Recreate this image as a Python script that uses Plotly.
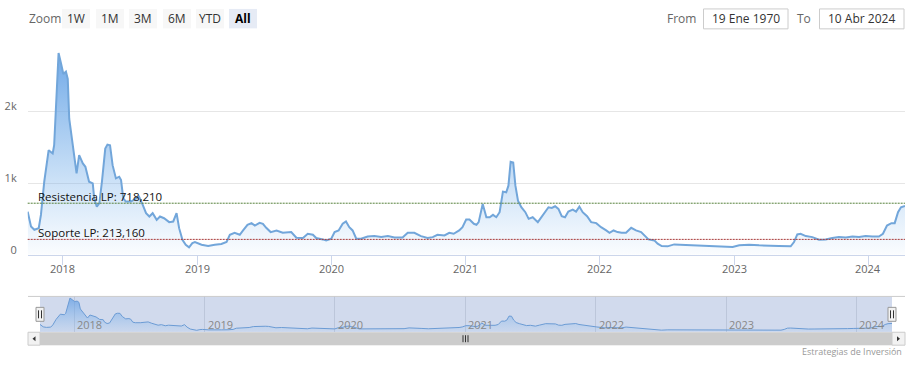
import plotly.graph_objects as go

# ---------------- data ----------------
dates = [
    "2017-09-27", "2017-10-06", "2017-10-15", "2017-10-27", "2017-11-02", "2017-11-11", "2017-11-23",
    "2017-12-04", "2017-12-08", "2017-12-15", "2017-12-20", "2017-12-27", "2018-01-02", "2018-01-09",
    "2018-01-14", "2018-01-18", "2018-01-27", "2018-02-07", "2018-02-14", "2018-02-24", "2018-03-03",
    "2018-03-13", "2018-03-23", "2018-03-27", "2018-04-03", "2018-04-10", "2018-04-17", "2018-04-26",
    "2018-05-02", "2018-05-09", "2018-05-16", "2018-05-25", "2018-06-03", "2018-06-08", "2018-06-14",
    "2018-06-21", "2018-07-05", "2018-07-18", "2018-07-27", "2018-08-06", "2018-08-15", "2018-08-24",
    "2018-09-02", "2018-09-13", "2018-09-22", "2018-10-03", "2018-10-17", "2018-10-28", "2018-11-06",
    "2018-11-13", "2018-11-22", "2018-12-01", "2018-12-10", "2018-12-19", "2018-12-26", "2019-01-13",
    "2019-01-31", "2019-02-18", "2019-03-08", "2019-03-22", "2019-03-31", "2019-04-13", "2019-04-27",
    "2019-05-06", "2019-05-18", "2019-05-29", "2019-06-07", "2019-06-20", "2019-06-29", "2019-07-08",
    "2019-07-20", "2019-08-05", "2019-08-22", "2019-09-14", "2019-09-28", "2019-10-16", "2019-10-29",
    "2019-11-12", "2019-11-21", "2019-12-09", "2019-12-18", "2020-01-01", "2020-01-10", "2020-01-21",
    "2020-02-01", "2020-02-10", "2020-02-19", "2020-02-28", "2020-03-09", "2020-03-22", "2020-04-09",
    "2020-04-27", "2020-05-16", "2020-06-03", "2020-06-21", "2020-07-13", "2020-07-27", "2020-08-14",
    "2020-09-01", "2020-09-19", "2020-10-03", "2020-10-16", "2020-11-04", "2020-11-17", "2020-11-29",
    "2020-12-14", "2020-12-23", "2021-01-02", "2021-01-11", "2021-01-23", "2021-01-30", "2021-02-05",
    "2021-02-16", "2021-02-26", "2021-03-07", "2021-03-16", "2021-03-25", "2021-04-03", "2021-04-12",
    "2021-04-21", "2021-04-27", "2021-05-03", "2021-05-10", "2021-05-16", "2021-05-23", "2021-06-01",
    "2021-06-12", "2021-06-21", "2021-07-02", "2021-07-16", "2021-07-27", "2021-08-05", "2021-08-14",
    "2021-08-23", "2021-09-01", "2021-09-10", "2021-09-19", "2021-09-28", "2021-10-07", "2021-10-19",
    "2021-10-28", "2021-11-06", "2021-11-15", "2021-11-27", "2021-12-08", "2021-12-22", "2022-01-04",
    "2022-01-18", "2022-01-27", "2022-02-07", "2022-02-18", "2022-03-01", "2022-03-13", "2022-03-27",
    "2022-04-09", "2022-04-23", "2022-05-04", "2022-05-13", "2022-05-29", "2022-06-07", "2022-06-18",
    "2022-07-04", "2022-07-22", "2022-08-09", "2022-08-27", "2022-09-15", "2022-10-07", "2022-10-25",
    "2022-11-21", "2022-12-28", "2023-01-15", "2023-02-11", "2023-03-10", "2023-04-06", "2023-05-03",
    "2023-06-04", "2023-06-13", "2023-06-22", "2023-07-01", "2023-07-15", "2023-08-02", "2023-08-20",
    "2023-09-07", "2023-09-25", "2023-10-13", "2023-11-01", "2023-11-19", "2023-12-07", "2023-12-25",
    "2024-01-12", "2024-01-30", "2024-02-10", "2024-02-21", "2024-03-04", "2024-03-13", "2024-03-22",
    "2024-03-30", "2024-04-10",
]
values = [
    600, 393, 347, 370, 555, 1018, 1458,
    1412, 1528, 2361, 2815, 2662, 2523, 2556,
    2454, 1898, 1528, 1134, 1389, 1273, 1227,
    1018, 995, 787, 671, 718, 1018, 1481,
    1537, 1528, 1250, 1065, 1088, 1042, 787,
    741, 741, 787, 810, 694, 579, 532,
    579, 486, 532, 509, 454, 463, 579,
    370, 208, 139, 102, 162, 176, 139,
    120, 139, 148, 176, 278, 305, 278,
    338, 417, 440, 407, 444, 431, 375,
    315, 338, 305, 315, 236, 232, 292,
    278, 232, 213, 199, 222, 315, 338,
    431, 463, 384, 338, 222, 222, 254,
    259, 245, 259, 240, 240, 305, 305,
    259, 232, 245, 278, 268, 305, 292,
    338, 384, 490, 490, 431, 417, 454,
    708, 523, 523, 556, 523, 593, 880,
    870, 963, 1296, 1287, 963, 755, 662,
    593, 500, 523, 454, 537, 593, 662,
    653, 676, 639, 537, 523, 602, 630,
    602, 671, 593, 537, 454, 440, 384,
    338, 305, 338, 315, 305, 305, 375,
    338, 315, 259, 213, 199, 153, 120,
    116, 143, 139, 130, 130, 130, 116,
    116, 106, 130, 139, 130, 130, 120,
    116, 176, 282, 292, 259, 245, 208,
    213, 232, 245, 240, 254, 245, 259,
    254, 254, 292, 407, 440, 440, 593,
    662, 680,
]
year_ticks = ["2018-01-01", "2019-01-01", "2020-01-01", "2021-01-01",
              "2022-01-01", "2023-01-01", "2024-01-01"]
year_labels = ["2018", "2019", "2020", "2021", "2022", "2023", "2024"]
y_ticks = [0, 1000, 2000, 3000]
y_labels = ["0", "1k", "2k", ""]
resistencia = 718.21
soporte = 213.16
zoom_buttons = ["1W", "1M", "3M", "6M", "YTD", "All"]
date_from = "19 Ene 1970"
date_to = "10 Abr 2024"
credit = "Estrategias de Inversión"

# ---------------- helpers ----------------
W = 911
H_RENDER = 380           # page height; the picture shows its top 368 px
FONT = "Open Sans, Noto Sans, sans-serif"


def px(p):
    return p / W


def py(p):
    return 1 - p / H_RENDER


def fmt(v):
    return f"{v:.3f}".replace(".", ",")


fig = go.Figure()

# main series
fig.add_trace(go.Scatter(
    x=dates, y=values, mode="lines",
    line=dict(color="#72a6da", width=2),
    fill="tozeroy",
    fillgradient=dict(type="vertical",
                      colorscale=[[0, "rgba(124,181,236,0.03)"], [1, "rgba(104,164,230,0.95)"]],
                      start=0, stop=max(values)),
    hoverinfo="x+y", showlegend=False,
))

# navigator series
fig.add_trace(go.Scatter(
    x=dates, y=values, mode="lines", xaxis="x2", yaxis="y2",
    line=dict(color="#6b9bd4", width=1),
    fill="tozeroy",
    fillgradient=dict(type="vertical",
                      colorscale=[[0, "rgba(124,181,236,0.08)"], [1, "rgba(100,158,228,0.75)"]],
                      start=0, stop=max(values)),
    hoverinfo="skip", showlegend=False,
))

shapes = []
annotations = []

# plot lines (resistance / support)
for val, color, name in [(resistencia, "#55803a", "Resistencia LP"), (soporte, "#a83a3a", "Soporte LP")]:
    shapes.append(dict(type="line", xref="x domain", yref="y", x0=0, x1=1, y0=val, y1=val,
                       line=dict(color=color, width=1, dash="2px,1px"), layer="above"))
    annotations.append(dict(xref="x domain", yref="y", x=(36 - 27.7) / 877.3, y=val,
                            xanchor="left", yanchor="middle", yshift=7,
                            text=f"{name}: {fmt(val)}", showarrow=False,
                            font=dict(family=FONT, size=11.5, color="#111111")))

# main x-axis year labels (placed on the x scale)
for tv, tl in zip(year_ticks, year_labels):
    annotations.append(dict(xref="x", yref="paper", x=tv, y=py(269.5), xanchor="center",
                            yanchor="middle", text=tl, showarrow=False,
                            font=dict(family=FONT, size=11, color="#666666")))

# navigator year labels (on navigator scale)
for tv, tl in zip(year_ticks, year_labels):
    annotations.append(dict(xref="x2", yref="paper", x=tv, y=py(326.5), xanchor="left",
                            yanchor="middle", xshift=1, text=tl, showarrow=False,
                            font=dict(family=FONT, size=11, color="#888888")))

# navigator mask / outline / handles
nav_top, nav_bot = 298, 334
shapes.append(dict(type="rect", xref="paper", yref="paper", x0=px(40), x1=px(892),
                   y0=py(nav_bot), y1=py(nav_top), fillcolor="rgba(102,133,194,0.3)",
                   line=dict(width=0), layer="below"))
shapes.append(dict(type="line", xref="paper", yref="paper", x0=px(28), x1=px(905),
                   y0=py(nav_top), y1=py(nav_top), line=dict(color="#cccccc", width=1)))
for hx in (40, 892):
    shapes.append(dict(type="rect", xref="paper", yref="paper", x0=px(hx - 4), x1=px(hx + 4),
                       y0=py(323), y1=py(309), fillcolor="#f2f2f2",
                       line=dict(color="#999999", width=1)))
    for lx in (hx - 1.5, hx + 1.5):
        shapes.append(dict(type="line", xref="paper", yref="paper", x0=px(lx), x1=px(lx),
                           y0=py(320), y1=py(312), line=dict(color="#333333", width=1)))

# scrollbar
sb_top, sb_bot = 334, 347
shapes.append(dict(type="rect", xref="paper", yref="paper", x0=px(28), x1=px(905),
                   y0=py(sb_bot), y1=py(sb_top), fillcolor="#f2f2f2", line=dict(width=0)))
shapes.append(dict(type="rect", xref="paper", yref="paper", x0=px(40), x1=px(892),
                   y0=py(sb_bot), y1=py(sb_top), fillcolor="#cccccc", line=dict(width=0)))
for bx0, bx1 in ((28, 40), (892, 905)):
    shapes.append(dict(type="rect", xref="paper", yref="paper", x0=px(bx0), x1=px(bx1),
                       y0=py(sb_bot), y1=py(sb_top), fillcolor="#f2f2f2",
                       line=dict(color="#cccccc", width=1)))
shapes.append(dict(type="path", xref="paper", yref="paper",
                   path=f"M {px(32.5)} {py(340.5)} L {px(35.5)} {py(338)} L {px(35.5)} {py(343)} Z",
                   fillcolor="#333333", line=dict(width=0)))
shapes.append(dict(type="path", xref="paper", yref="paper",
                   path=f"M {px(900)} {py(340.5)} L {px(897)} {py(338)} L {px(897)} {py(343)} Z",
                   fillcolor="#333333", line=dict(width=0)))
for gx in (463, 465.5, 468):
    shapes.append(dict(type="line", xref="paper", yref="paper", x0=px(gx), x1=px(gx),
                       y0=py(344), y1=py(337), line=dict(color="#333333", width=1)))

# range selector
annotations.append(dict(xref="paper", yref="paper", x=px(27), y=py(18.5), xanchor="left",
                        yanchor="middle", text="Zoom", showarrow=False,
                        font=dict(family=FONT, size=12, color="#666666")))
btn_x = [62, 96, 129, 163, 196, 229]
for label, bx in zip(zoom_buttons, btn_x):
    sel = label == "All"
    shapes.append(dict(type="rect", xref="paper", yref="paper", x0=px(bx), x1=px(bx + 28),
                       y0=py(28.5), y1=py(9), fillcolor="#e6ebf5" if sel else "#f7f7f7",
                       line=dict(width=0)))
    annotations.append(dict(xref="paper", yref="paper", x=px(bx + 14), y=py(18.5),
                            xanchor="center", yanchor="middle",
                            text=f"<b>{label}</b>" if sel else label, showarrow=False,
                            font=dict(family=FONT, size=12, color="#000000" if sel else "#333333")))

# date inputs
annotations.append(dict(xref="paper", yref="paper", x=px(698), y=py(18.5), xanchor="right",
                        yanchor="middle", text="From", showarrow=False,
                        font=dict(family=FONT, size=12, color="#666666")))
annotations.append(dict(xref="paper", yref="paper", x=px(813), y=py(18.5), xanchor="right",
                        yanchor="middle", text="To", showarrow=False,
                        font=dict(family=FONT, size=12, color="#666666")))
for (bx0, bx1), txt in (((703.5, 788), date_from), ((819.5, 904), date_to)):
    shapes.append(dict(type="rect", xref="paper", yref="paper", x0=px(bx0), x1=px(bx1),
                       y0=py(29), y1=py(9), fillcolor="#ffffff",
                       line=dict(color="#cccccc", width=1)))
    annotations.append(dict(xref="paper", yref="paper", x=px((bx0 + bx1) / 2), y=py(18.5),
                            xanchor="center", yanchor="middle", text=txt, showarrow=False,
                            font=dict(family=FONT, size=12, color="#333333")))

# credit
annotations.append(dict(xref="paper", yref="paper", x=px(904), y=py(353), xanchor="right",
                        yanchor="middle", text=credit, showarrow=False,
                        font=dict(family=FONT, size=9, color="#999999")))

fig.update_layout(
    width=W, height=H_RENDER, autosize=False,
    margin=dict(l=0, r=0, t=0, b=0),
    paper_bgcolor="#ffffff", plot_bgcolor="rgba(0,0,0,0)",
    showlegend=False,
    font=dict(family=FONT, size=11, color="#666666"),
    xaxis=dict(domain=[px(27.7), px(905)], range=[dates[0], dates[-1]], type="date",
               tickmode="array", tickvals=year_ticks, ticktext=year_labels,
               ticks="outside", ticklen=9, tickcolor="#ccd6eb", showline=True,
               linecolor="#ccd6eb", linewidth=1, showgrid=False, zeroline=False,
               showticklabels=False, fixedrange=True, anchor="y"),
    yaxis=dict(domain=[py(256), py(40)], range=[0, 3000], tickmode="array",
               tickvals=y_ticks, ticktext=y_labels, showgrid=True, gridcolor="#e6e6e6",
               gridwidth=1, zeroline=False, showline=False, ticks="",
               tickfont=dict(family=FONT, size=11, color="#666666"),
               ticklabelshift=-5, ticklabelstandoff=10, fixedrange=True, anchor="x"),
    xaxis2=dict(domain=[px(40), px(892)], range=[dates[0], dates[-1]], type="date",
                anchor="y2", tickmode="array", tickvals=year_ticks, ticktext=year_labels,
                ticks="", showgrid=True, gridcolor="#bcc6da", showline=False, zeroline=False,
                showticklabels=False, fixedrange=True),
    yaxis2=dict(domain=[py(nav_bot), py(nav_top)], range=[-60, 2950], anchor="x2",
                showgrid=False, zeroline=False, showticklabels=False, showline=False,
                ticks="", fixedrange=True),
    shapes=shapes,
    annotations=annotations,
)

fig.write_html("out.html",
               config={"displayModeBar": False, "responsive": False},
               post_script="document.body.style.margin='0';document.body.style.padding='0';")
